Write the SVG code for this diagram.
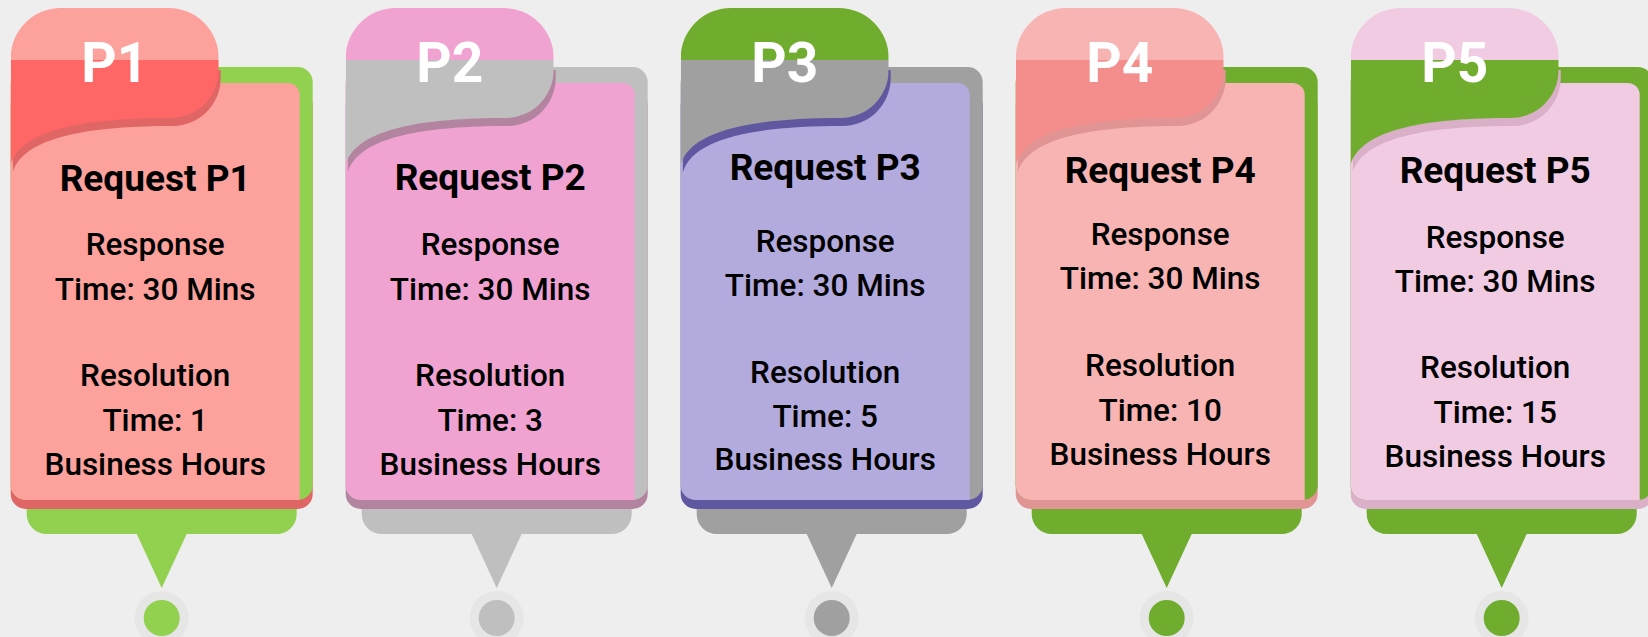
<svg xmlns="http://www.w3.org/2000/svg" xmlns:xlink="http://www.w3.org/1999/xlink" width="1648" height="637" viewBox="0 0 1648 637">
<style>
.ttl{font-family:Roboto,"Liberation Sans",sans-serif;font-weight:700;font-size:37px;fill:#000;text-anchor:middle}
.txt{font-family:Roboto,"Liberation Sans",sans-serif;font-weight:500;font-size:31.5px;fill:#000;text-anchor:middle}
.plb{font-family:Roboto,"Liberation Sans",sans-serif;font-weight:700;font-size:55px;fill:#fff;text-anchor:middle}
.ring{fill:#E6E6E6}
</style>
<defs>
<path id="tab" d="M0,165 L0,58 A50,50 0 0 1 50,8 L158,8 A50,50 0 0 1 208,58 L208,70 A48,48 0 0 1 160,118 C80,118 10,128 0,165 Z"/>
<path id="pill" d="M16,470 L286,470 L286,514 A20,20 0 0 1 266,534 L176,534 L151,588 L126,534 L36,534 A20,20 0 0 1 16,514 Z"/>
<path id="body" d="M0,83 L277,83 A12,12 0 0 1 289,95 L289,500 L15,500 A15,15 0 0 1 0,485 Z"/>
<clipPath id="tabClip"><use xlink:href="#tab"/></clipPath>
<clipPath id="shClip"><rect x="0" y="62" width="215" height="130"/></clipPath>
</defs>
<rect width="1648" height="637" fill="#EEEEEE"/>

<g id="card-p1" transform="translate(10.7,0)">
<use xlink:href="#pill" fill="#92D050"/>
<circle class="ring" cx="151" cy="618" r="27"/>
<circle cx="151" cy="618" r="18" fill="#92D050"/>
<rect x="0" y="90" width="302" height="419" rx="15" fill="#E06666"/>
<rect x="0" y="67" width="302" height="433" rx="15" fill="#92D050"/>
<use xlink:href="#body" fill="#FCA19B"/>
<use xlink:href="#tab" transform="translate(2,8)" fill="#E06666" clip-path="url(#shClip)"/>
<g clip-path="url(#tabClip)"><rect x="0" y="0" width="210" height="60" fill="#FCA19B"/><rect x="0" y="60" width="210" height="120" fill="#FF6666"/></g>
<text class="plb" x="104" y="82">P1</text>
<text class="ttl" x="144.5" y="191">Request P1</text>
<text class="txt" x="144.5" y="255">Response</text>
<text class="txt" x="144.5" y="300">Time: 30 Mins</text>
<text class="txt" x="144.5" y="386">Resolution</text>
<text class="txt" x="144.5" y="431">Time: 1</text>
<text class="txt" x="144.5" y="475">Business Hours</text>
</g>

<g id="card-p2" transform="translate(345.7,0)">
<use xlink:href="#pill" fill="#BFBFBF"/>
<circle class="ring" cx="151" cy="618" r="27"/>
<circle cx="151" cy="618" r="18" fill="#BFBFBF"/>
<rect x="0" y="90" width="302" height="419" rx="15" fill="#B3849F"/>
<rect x="0" y="67" width="302" height="433" rx="15" fill="#BFBFBF"/>
<use xlink:href="#body" fill="#F0A3D0"/>
<use xlink:href="#tab" transform="translate(2,8)" fill="#B3849F" clip-path="url(#shClip)"/>
<g clip-path="url(#tabClip)"><rect x="0" y="0" width="210" height="60" fill="#F0A3D0"/><rect x="0" y="60" width="210" height="120" fill="#BFBFBF"/></g>
<text class="plb" x="104" y="82">P2</text>
<text class="ttl" x="144.5" y="190">Request P2</text>
<text class="txt" x="144.5" y="255">Response</text>
<text class="txt" x="144.5" y="300">Time: 30 Mins</text>
<text class="txt" x="144.5" y="386">Resolution</text>
<text class="txt" x="144.5" y="431">Time: 3</text>
<text class="txt" x="144.5" y="475">Business Hours</text>
</g>

<g id="card-p3" transform="translate(680.7,0)">
<use xlink:href="#pill" fill="#A0A0A0"/>
<circle class="ring" cx="151" cy="618" r="27"/>
<circle cx="151" cy="618" r="18" fill="#A0A0A0"/>
<rect x="0" y="90" width="302" height="419" rx="15" fill="#5F57A0"/>
<rect x="0" y="67" width="302" height="433" rx="15" fill="#A0A0A0"/>
<use xlink:href="#body" fill="#B3ABDE"/>
<use xlink:href="#tab" transform="translate(2,8)" fill="#5F57A0" clip-path="url(#shClip)"/>
<g clip-path="url(#tabClip)"><rect x="0" y="0" width="210" height="60" fill="#70AD2F"/><rect x="0" y="60" width="210" height="120" fill="#A0A0A0"/></g>
<text class="plb" x="104" y="82">P3</text>
<text class="ttl" x="144.5" y="180">Request P3</text>
<text class="txt" x="144.5" y="252">Response</text>
<text class="txt" x="144.5" y="296">Time: 30 Mins</text>
<text class="txt" x="144.5" y="383">Resolution</text>
<text class="txt" x="144.5" y="427">Time: 5</text>
<text class="txt" x="144.5" y="470">Business Hours</text>
</g>

<g id="card-p4" transform="translate(1015.7,0)">
<use xlink:href="#pill" fill="#70AD2F"/>
<circle class="ring" cx="151" cy="618" r="27"/>
<circle cx="151" cy="618" r="18" fill="#70AD2F"/>
<rect x="0" y="90" width="302" height="419" rx="15" fill="#E09494"/>
<rect x="0" y="67" width="302" height="433" rx="15" fill="#70AD2F"/>
<use xlink:href="#body" fill="#F7B4B2"/>
<use xlink:href="#tab" transform="translate(2,8)" fill="#E09494" clip-path="url(#shClip)"/>
<g clip-path="url(#tabClip)"><rect x="0" y="0" width="210" height="60" fill="#F7B4B2"/><rect x="0" y="60" width="210" height="120" fill="#F48E8C"/></g>
<text class="plb" x="104" y="82">P4</text>
<text class="ttl" x="144.5" y="183">Request P4</text>
<text class="txt" x="144.5" y="245">Response</text>
<text class="txt" x="144.5" y="289">Time: 30 Mins</text>
<text class="txt" x="144.5" y="376">Resolution</text>
<text class="txt" x="144.5" y="421">Time: 10</text>
<text class="txt" x="144.5" y="465">Business Hours</text>
</g>

<g id="card-p5" transform="translate(1350.7,0)">
<use xlink:href="#pill" fill="#70AD2F"/>
<circle class="ring" cx="151" cy="618" r="27"/>
<circle cx="151" cy="618" r="18" fill="#70AD2F"/>
<rect x="0" y="90" width="302" height="419" rx="15" fill="#DAAFC8"/>
<rect x="0" y="67" width="302" height="433" rx="15" fill="#70AD2F"/>
<use xlink:href="#body" fill="#F1CBE2"/>
<use xlink:href="#tab" transform="translate(2,8)" fill="#DAAFC8" clip-path="url(#shClip)"/>
<g clip-path="url(#tabClip)"><rect x="0" y="0" width="210" height="60" fill="#F1CBE2"/><rect x="0" y="60" width="210" height="120" fill="#70AD2F"/></g>
<text class="plb" x="104" y="82">P5</text>
<text class="ttl" x="144.5" y="183">Request P5</text>
<text class="txt" x="144.5" y="248">Response</text>
<text class="txt" x="144.5" y="292">Time: 30 Mins</text>
<text class="txt" x="144.5" y="378">Resolution</text>
<text class="txt" x="144.5" y="423">Time: 15</text>
<text class="txt" x="144.5" y="467">Business Hours</text>
</g>
<g id="connectors"/>
</svg>
